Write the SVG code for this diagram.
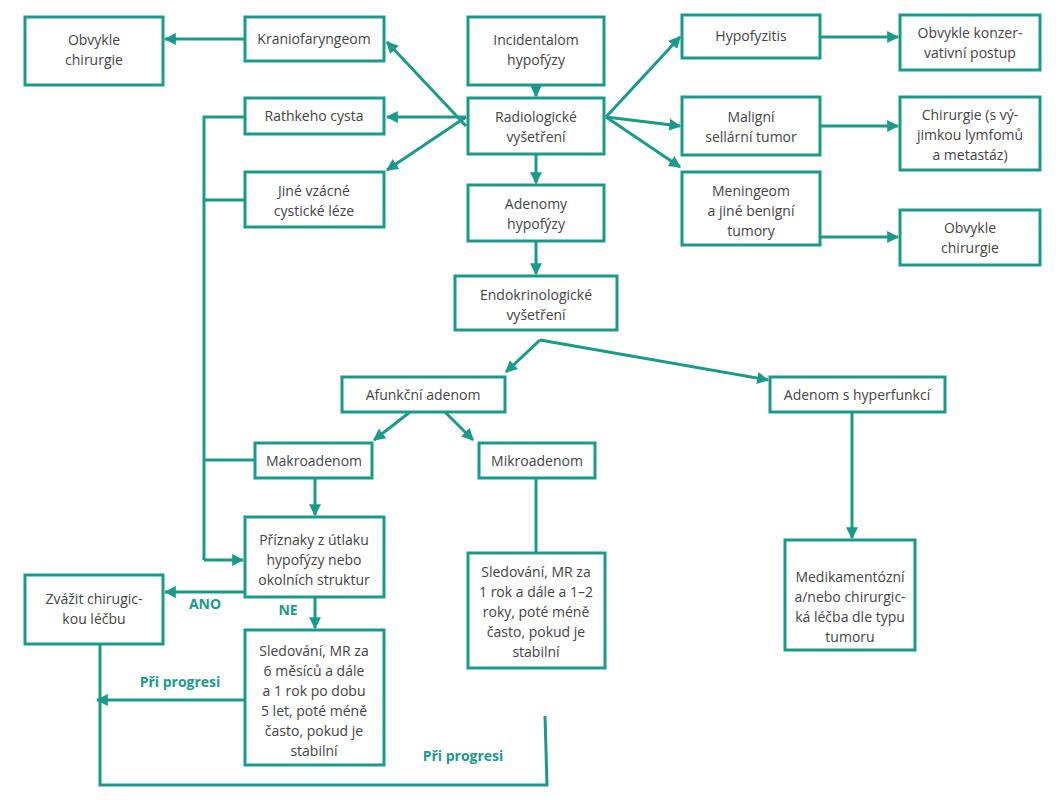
<svg xmlns="http://www.w3.org/2000/svg" width="1063" height="800" viewBox="0 0 1063 800">
<defs>
<marker id="ah" viewBox="0 0 10 10" refX="9" refY="5" markerWidth="4" markerHeight="4" orient="auto"><path d="M0,0 L10,5 L0,10 z" fill="#1a9a8a"/></marker>
<style>
rect{fill:#fff;stroke:#1a9a8a;stroke-width:3}
text{font-family:"Open Sans","Liberation Sans",sans-serif;font-size:14px;fill:#444;text-anchor:middle}
.c path{fill:none;stroke:#1a9a8a;stroke-width:3}
.a{marker-end:url(#ah)}
.l{fill:#1a9a8a;font-weight:bold}
</style>
</defs>
<rect x="0" y="0" width="1063" height="800" style="fill:#fff;stroke:none"/>
<g class="c">
<path class="a" d="M245,39 H165"/>
<path class="a" d="M466,126 L387,42"/>
<path class="a" d="M466,117 H387"/>
<path class="a" d="M466,117 L387,170"/>
<path class="a" d="M606,117 L680,37"/>
<path class="a" d="M606,117 L680,126"/>
<path class="a" d="M606,117 L680,167"/>
<path class="a" d="M820,37 H898"/>
<path class="a" d="M820,126 H898"/>
<path class="a" d="M820,237 H898"/>
<path class="a" d="M536,85 V96"/>
<path class="a" d="M536,154 V183"/>
<path class="a" d="M536,241 V274"/>
<path class="a" d="M540,340 L506,372"/>
<path d="M540,340"/>
<path class="a" d="M540,340 L768,380"/>
<path class="a" d="M410,412 L374,440"/>
<path class="a" d="M445,412 L473,440"/>
<path d="M245,117 H204 V560"/>
<path d="M245,200 H204"/>
<path d="M255,460 H204"/>
<path class="a" d="M204,560 H243"/>
<path class="a" d="M315,478 V515"/>
<path class="a" d="M245,592 H165"/>
<path class="a" d="M315,597 V628"/>
<path class="a" d="M536,478 V573"/>
<path class="a" d="M852,412 V538"/>
<path class="a" d="M245,700 H97"/>
<path class="a" d="M545,716 L547,785 H100 V614"/>
</g>
<g id="n1"><rect x="25" y="17" width="138" height="68"/><text x="94" y="45">Obvykle</text><text x="94" y="65">chirurgie</text></g>
<g id="n2"><rect x="245" y="17" width="139" height="44"/><text x="314" y="44">Kraniofaryngeom</text></g>
<g id="n3"><rect x="468" y="17" width="136" height="68"/><text x="536" y="45">Incidentalom</text><text x="536" y="65">hypofýzy</text></g>
<g id="n4"><rect x="468" y="98" width="136" height="56"/><text x="536" y="122">Radiologické</text><text x="536" y="142">vyšetření</text></g>
<g id="n5"><rect x="245" y="98" width="139" height="36"/><text x="314" y="121">Rathkeho cysta</text></g>
<g id="n6"><rect x="245" y="172" width="139" height="55"/><text x="314" y="196">Jiné vzácné</text><text x="314" y="216">cystické léze</text></g>
<g id="n7"><rect x="468" y="185" width="136" height="56"/><text x="536" y="209">Adenomy</text><text x="536" y="229">hypofýzy</text></g>
<g id="n8"><rect x="455" y="276" width="162" height="54"/><text x="536" y="300">Endokrinologické</text><text x="536" y="320">vyšetření</text></g>
<g id="n9"><rect x="682" y="15" width="138" height="43"/><text x="751" y="41">Hypofyzitis</text></g>
<g id="n10"><rect x="900" y="15" width="140" height="55"/><text x="970" y="38">Obvykle konzer-</text><text x="970" y="58">vativní postup</text></g>
<g id="n11"><rect x="682" y="97" width="138" height="58"/><text x="751" y="122">Maligní</text><text x="751" y="142">sellární tumor</text></g>
<g id="n12"><rect x="900" y="97" width="140" height="73"/><text x="970" y="120">Chirurgie (s vý-</text><text x="970" y="140">jimkou lymfomů</text><text x="970" y="160">a metastáz)</text></g>
<g id="n13"><rect x="682" y="172" width="138" height="73"/><text x="751" y="196">Meningeom</text><text x="751" y="216">a jiné benigní</text><text x="751" y="236">tumory</text></g>
<g id="n14"><rect x="900" y="210" width="140" height="55"/><text x="970" y="233">Obvykle</text><text x="970" y="253">chirurgie</text></g>
<g id="n15"><rect x="342" y="377" width="163" height="35"/><text x="423" y="400">Afunkční adenom</text></g>
<g id="n16"><rect x="770" y="377" width="175" height="35"/><text x="857" y="400">Adenom s hyperfunkcí</text></g>
<g id="n17"><rect x="255" y="443" width="117" height="35"/><text x="314" y="466">Makroadenom</text></g>
<g id="n18"><rect x="479" y="443" width="116" height="35"/><text x="537" y="466">Mikroadenom</text></g>
<g id="n19"><rect x="245" y="517" width="139" height="80"/><text x="314" y="545">Příznaky z útlaku</text><text x="314" y="565">hypofýzy nebo</text><text x="314" y="585">okolních struktur</text></g>
<g id="n20"><rect x="25" y="575" width="138" height="69"/><text x="94" y="604">Zvážit chirugic-</text><text x="94" y="624">kou léčbu</text></g>
<g id="n21"><rect x="245" y="630" width="139" height="135"/><text x="314" y="656">Sledování, MR za</text><text x="314" y="676">6 měsíců a dále</text><text x="314" y="696">a 1 rok po dobu</text><text x="314" y="716">5 let, poté méně</text><text x="314" y="736">často, pokud je</text><text x="314" y="756">stabilní</text></g>
<g id="n22"><rect x="468" y="553" width="137" height="115"/><text x="536" y="577">Sledování, MR za</text><text x="536" y="597">1 rok a dále a 1–2</text><text x="536" y="617">roky, poté méně</text><text x="536" y="637">často, pokud je</text><text x="536" y="657">stabilní</text></g>
<g id="n23"><rect x="785" y="540" width="130" height="110"/><text x="850" y="582">Medikamentózní</text><text x="850" y="602">a/nebo chirurgic-</text><text x="850" y="622">ká léčba dle typu</text><text x="850" y="642">tumoru</text></g>
<text class="l" x="205" y="609">ANO</text>
<text class="l" x="288" y="615">NE</text>
<text class="l" x="180" y="687">Při progresi</text>
<text class="l" x="463" y="761">Při progresi</text>
</svg>
